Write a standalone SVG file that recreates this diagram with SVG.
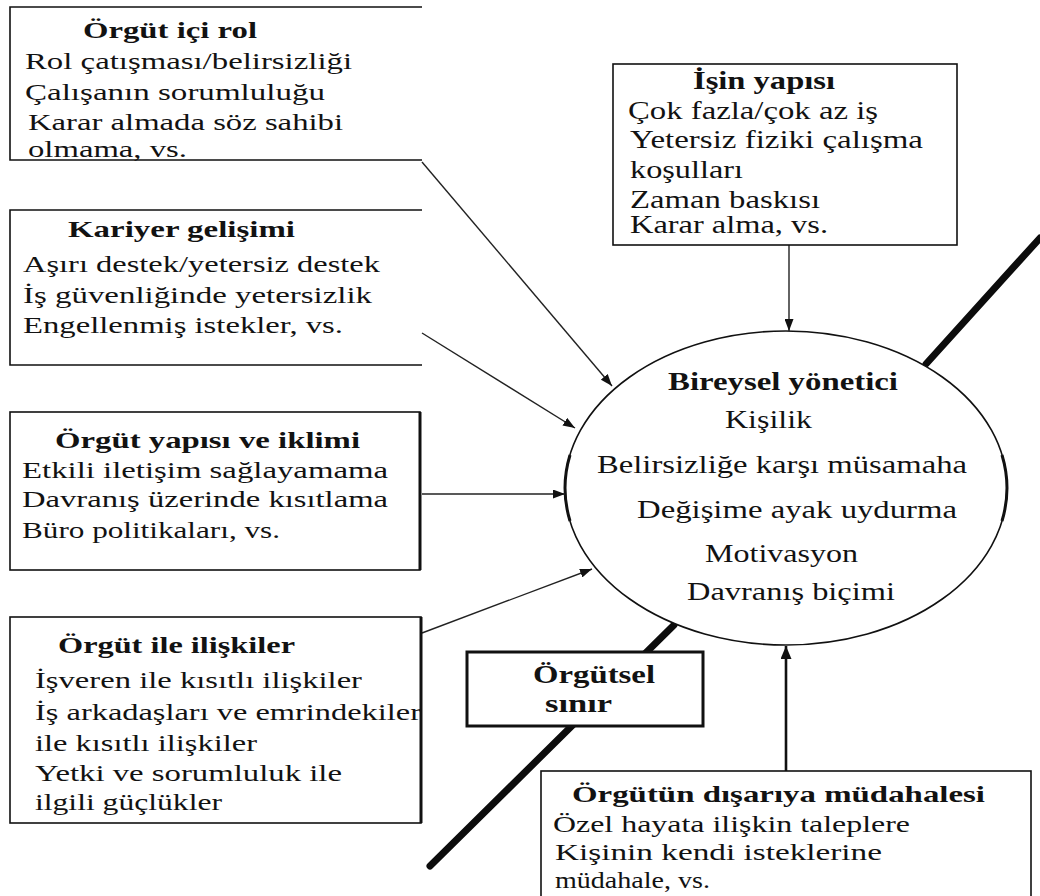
<svg xmlns="http://www.w3.org/2000/svg" width="1040" height="896" viewBox="0 0 1040 896" font-family="'Liberation Serif', 'Times New Roman', 'DejaVu Serif', serif">
  <style>
    .t { font-family: 'Liberation Serif', 'Times New Roman', 'DejaVu Serif', serif; font-size: 23px; fill: #121212; }
    .b { font-weight: bold; }
    .e { font-size: 25px; }
    .lbl { font-size: 26px; font-weight: bold; }
    .box { fill: #ffffff; stroke: #111111; stroke-width: 1.6; }
    .edge { fill: none; stroke: #111111; stroke-width: 1.6; }
    .heavy { fill: none; stroke: #111111; stroke-width: 3; }
    .conn { fill: none; stroke: #222222; stroke-width: 1.4; marker-end: url(#ah); }
    .conn-bold { fill: none; stroke: #111111; stroke-width: 2.6; marker-end: url(#ahb); }
    .boundary { fill: none; stroke: #0c0c0c; stroke-width: 7; stroke-linecap: round; }
  </style>
  <defs>
    <marker id="ah" viewBox="0 0 10 10" refX="10" refY="5" markerWidth="12" markerHeight="9" markerUnits="userSpaceOnUse" orient="auto" preserveAspectRatio="none">
      <path d="M0,0 L10,5 L0,10 z" fill="#111111"/>
    </marker>
    <marker id="ahb" viewBox="0 0 10 10" refX="10" refY="5" markerWidth="13" markerHeight="11" markerUnits="userSpaceOnUse" orient="auto" preserveAspectRatio="none">
      <path d="M0,0 L10,5 L0,10 z" fill="#111111"/>
    </marker>
  </defs>

  <rect width="1040" height="896" fill="#ffffff"/>

  <!-- organisational boundary (thick diagonal) -->
  <g id="boundary">
    <path class="boundary" d="M1040,238 L926,364"/>
    <path class="boundary" d="M674,625 L430,866"/>
  </g>

  <!-- central ellipse: the individual manager -->
  <g id="manager">
    <ellipse cx="786" cy="488" rx="221" ry="157" fill="#ffffff" stroke="#111111" stroke-width="1.6"/>
    <path class="heavy" d="M570,455 A221,157 0 0 0 570,521"/>
    <path class="heavy" d="M1002,455 A221,157 0 0 1 1002,521"/>
    <text class="t e b" x="668" y="390" textLength="230" lengthAdjust="spacingAndGlyphs">Bireysel yönetici</text>
    <text class="t e" x="725" y="428" textLength="87" lengthAdjust="spacingAndGlyphs">Kişilik</text>
    <text class="t e" x="597" y="473" textLength="370" lengthAdjust="spacingAndGlyphs">Belirsizliğe karşı müsamaha</text>
    <text class="t e" x="637" y="518" textLength="320" lengthAdjust="spacingAndGlyphs">Değişime ayak uydurma</text>
    <text class="t e" x="705" y="562" textLength="153" lengthAdjust="spacingAndGlyphs">Motivasyon</text>
    <text class="t e" x="687" y="600" textLength="208" lengthAdjust="spacingAndGlyphs">Davranış biçimi</text>
  </g>

  <!-- connectors -->
  <g id="connectors">
    <path class="conn" d="M422,162 L612,386"/>
    <path class="conn" d="M422,333 L575,428"/>
    <path class="conn" d="M422,494 L565,494"/>
    <path class="conn" d="M422,633 L592,569"/>
    <path class="conn" d="M789,245 L789,331"/>
    <path class="conn-bold" d="M786,771 L786,646"/>
  </g>

  <!-- role in the organisation (open on the right) -->
  <g id="role">
    <path class="edge" d="M422,7 L10,7 L10,160 L422,160"/>
    <text class="t b" x="83" y="38" textLength="174" lengthAdjust="spacingAndGlyphs">Örgüt içi rol</text>
    <text class="t" x="25" y="69" textLength="327" lengthAdjust="spacingAndGlyphs">Rol çatışması/belirsizliği</text>
    <text class="t" x="25" y="100" textLength="300" lengthAdjust="spacingAndGlyphs">Çalışanın sorumluluğu</text>
    <text class="t" x="28" y="130" textLength="315" lengthAdjust="spacingAndGlyphs">Karar almada söz sahibi</text>
    <text class="t" x="28" y="157" textLength="159" lengthAdjust="spacingAndGlyphs">olmama, vs.</text>
  </g>

  <!-- career development (open on the right) -->
  <g id="career">
    <path class="edge" d="M422,210 L10,210 L10,365 L422,365"/>
    <text class="t b" x="68" y="237" textLength="227" lengthAdjust="spacingAndGlyphs">Kariyer gelişimi</text>
    <text class="t" x="23" y="272" textLength="357" lengthAdjust="spacingAndGlyphs">Aşırı destek/yetersiz destek</text>
    <text class="t" x="23" y="303" textLength="349" lengthAdjust="spacingAndGlyphs">İş güvenliğinde yetersizlik</text>
    <text class="t" x="23" y="333" textLength="320" lengthAdjust="spacingAndGlyphs">Engellenmiş istekler, vs.</text>
  </g>

  <!-- structure and climate -->
  <g id="structure">
    <rect class="box" x="10" y="412" width="410" height="158"/>
    <path class="heavy" d="M420,412 L420,570"/>
    <text class="t b" x="55" y="448" textLength="305" lengthAdjust="spacingAndGlyphs">Örgüt yapısı ve iklimi</text>
    <text class="t" x="22" y="478" textLength="366" lengthAdjust="spacingAndGlyphs">Etkili iletişim sağlayamama</text>
    <text class="t" x="22" y="507" textLength="366" lengthAdjust="spacingAndGlyphs">Davranış üzerinde kısıtlama</text>
    <text class="t" x="22" y="538" textLength="258" lengthAdjust="spacingAndGlyphs">Büro politikaları, vs.</text>
  </g>

  <!-- relations within the organisation -->
  <g id="relations">
    <rect class="box" x="10" y="617" width="411" height="206"/>
    <path class="heavy" d="M421,617 L421,823"/>
    <text class="t b" x="58" y="653" textLength="237" lengthAdjust="spacingAndGlyphs">Örgüt ile ilişkiler</text>
    <text class="t" x="35" y="688" textLength="327" lengthAdjust="spacingAndGlyphs">İşveren ile kısıtlı ilişkiler</text>
    <text class="t" x="35" y="720" textLength="386" lengthAdjust="spacingAndGlyphs">İş arkadaşları ve emrindekiler</text>
    <text class="t" x="35" y="751" textLength="222" lengthAdjust="spacingAndGlyphs">ile kısıtlı ilişkiler</text>
    <text class="t" x="35" y="781" textLength="307" lengthAdjust="spacingAndGlyphs">Yetki ve sorumluluk ile</text>
    <text class="t" x="35" y="810" textLength="187" lengthAdjust="spacingAndGlyphs">ilgili güçlükler</text>
  </g>

  <!-- nature of the job -->
  <g id="job">
    <rect class="box" x="613" y="64" width="344" height="181"/>
    <text class="t b e" x="693" y="89" textLength="142" lengthAdjust="spacingAndGlyphs">İşin yapısı</text>
    <text class="t e" x="628" y="119" textLength="250" lengthAdjust="spacingAndGlyphs">Çok fazla/çok az iş</text>
    <text class="t e" x="630" y="148" textLength="293" lengthAdjust="spacingAndGlyphs">Yetersiz fiziki çalışma</text>
    <text class="t e" x="630" y="178" textLength="113" lengthAdjust="spacingAndGlyphs">koşulları</text>
    <text class="t e" x="630" y="208" textLength="190" lengthAdjust="spacingAndGlyphs">Zaman baskısı</text>
    <text class="t e" x="630" y="233" textLength="198" lengthAdjust="spacingAndGlyphs">Karar alma, vs.</text>
  </g>

  <!-- boundary label -->
  <g id="boundary-label">
    <rect x="467" y="652" width="236" height="74" fill="#ffffff" stroke="#111111" stroke-width="3"/>
    <text class="t lbl" x="533" y="683" textLength="122" lengthAdjust="spacingAndGlyphs">Örgütsel</text>
    <text class="t lbl" x="545" y="712" textLength="67" lengthAdjust="spacingAndGlyphs">sınır</text>
  </g>

  <!-- outside interference of the organisation -->
  <g id="interference">
    <rect class="box" x="541" y="771" width="490" height="140"/>
    <text class="t b" x="572" y="802" textLength="413" lengthAdjust="spacingAndGlyphs">Örgütün dışarıya müdahalesi</text>
    <text class="t" x="553" y="832" textLength="357" lengthAdjust="spacingAndGlyphs">Özel hayata ilişkin taleplere</text>
    <text class="t" x="555" y="860" textLength="327" lengthAdjust="spacingAndGlyphs">Kişinin kendi isteklerine</text>
    <text class="t" x="555" y="888" textLength="155" lengthAdjust="spacingAndGlyphs">müdahale, vs.</text>
  </g>
</svg>
